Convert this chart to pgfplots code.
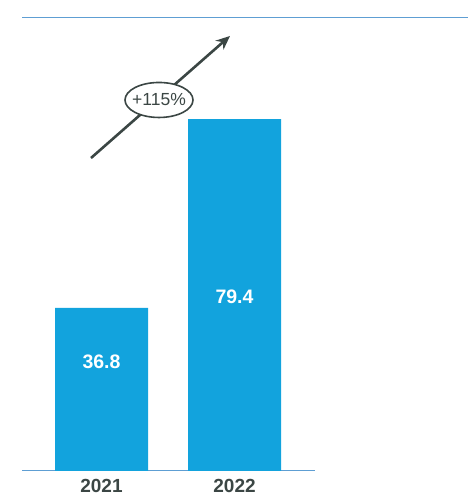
\documentclass[border=0pt]{standalone}
\usepackage{pgfplots}
\pgfplotsset{compat=1.18}
\usepackage{fontspec}
\setmainfont{Liberation Sans}
\usetikzlibrary{arrows.meta}

\definecolor{barblue}{HTML}{12A3DD}
\definecolor{rule}{HTML}{5E9ED3}
\definecolor{ink}{HTML}{3B4644}

\begin{document}
\begin{tikzpicture}
\begin{axis}[
  scale only axis,
  width=446pt, height=453pt,
  xmin=22, xmax=468,
  ymin=0, ymax=102.26,
  axis line style={draw=none},
  major tick length=0pt,
  ytick=\empty,
  clip=false,
  ybar, bar width=93pt,
  xtick={101.5,234.5},
  xticklabels={2021,2022},
  xticklabel style={font=\fontsize{19}{19}\selectfont\bfseries, text=ink, anchor=north, yshift=-5pt},
]
% canvas corners
\coordinate (bbA) at (axis cs:0,-5.87);
\coordinate (bbB) at (axis cs:468,106.32);
% horizontal rules
\draw[rule, line width=1pt] (axis cs:22,102.26) -- (axis cs:468,102.26);
\draw[rule, line width=1pt] (axis cs:22,0) -- (axis cs:315,0);

\addplot[fill=barblue, draw=none] coordinates {(101.5,36.8) (234.5,79.4)};

% value labels
\node[text=white, font=\fontsize{19.5}{19.5}\selectfont\bfseries] at (axis cs:101.5,24.6) {36.8};
\node[text=white, font=\fontsize{19.5}{19.5}\selectfont\bfseries] at (axis cs:234.5,39.3) {79.4};

% growth arrow with badge
\draw[ink, line width=2.6pt, -{Stealth[length=14pt,width=12pt]}] (axis cs:91,70.65) -- (axis cs:230,98.2);
\draw[ink, line width=1.6pt, fill=white] (axis cs:159,83.75) ellipse [x radius=34pt, y radius=17.5pt];
\node[text=ink, inner sep=0pt, font=\fontsize{17.5}{17.5}\selectfont] at (axis cs:159,83.75) {+115\%};
\end{axis}
\pgfresetboundingbox
\path[use as bounding box] (bbA) rectangle (bbB);
\end{tikzpicture}
\end{document}
